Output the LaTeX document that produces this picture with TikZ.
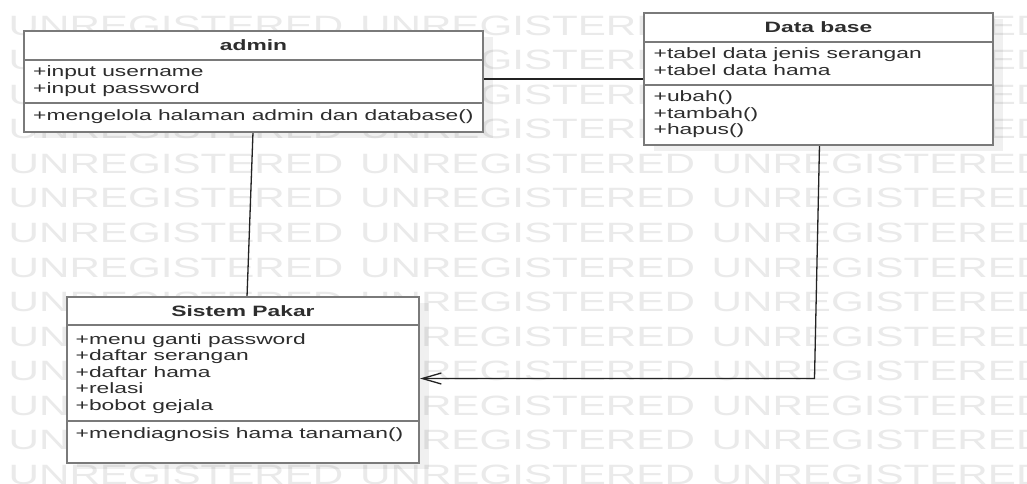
\documentclass[tikz,border=0pt]{standalone}
\usepackage{fontspec}
\setmainfont{Liberation Sans}[FakeStretch=1.52]
\newfontfamily\wmfont{Liberation Sans}[FakeStretch=1.51]
\usetikzlibrary{arrows.meta}
\definecolor{wmgray}{RGB}{234,234,234}
\definecolor{boxgray}{RGB}{122,122,122}
\definecolor{txtgray}{RGB}{45,45,45}
\definecolor{linegray}{RGB}{35,35,35}
\begin{document}
\begin{tikzpicture}[x=1pt,y=-1pt,
  wm/.style={anchor=base west, inner sep=0pt, text=wmgray, font=\wmfont\fontsize{27.9}{30}\selectfont},
  umlbox/.style={draw=boxgray, line width=2pt, fill=white, inner sep=0pt, outer sep=0pt},
  shadowbox/.style={fill=black, opacity=0.06},
  divider/.style={draw=boxgray, line width=2pt},
  member/.style={anchor=base west, inner sep=0pt, text=txtgray, font=\fontsize{15}{17}\selectfont},
  clstitle/.style={anchor=base, inner sep=0pt, text=txtgray, font=\bfseries\fontsize{15}{17}\selectfont},
  conn/.style={draw=linegray, line width=1.3pt},
]
\useasboundingbox (0,0) rectangle (1027,483);
\clip (0,0) rectangle (1027,483);
\fill[white] (0,0) rectangle (1027,483);

% watermark
\foreach \k in {0,...,13} {
  \foreach \j/\xx in {0/8.5,1/360,2/711.5} {
    \node[wm] (wm-\k-\j) at (\xx,{35+34.58*\k}) {UNREGISTERED};
  }
}

% shadows
\fill[shadowbox] (34,37) rectangle (493,138);
\fill[shadowbox] (654,19) rectangle (1003,150.5);
\fill[shadowbox] (77,303) rectangle (429,469);

% boxes
\node[umlbox, minimum width=459pt, minimum height=101pt] (admin) at (253.5,81.5) {};
\node[umlbox, minimum width=349pt, minimum height=131.5pt] (db) at (818.5,78.75) {};
\node[umlbox, minimum width=352pt, minimum height=166pt] (sp) at (243,380) {};

% connectors
\coordinate (adm-db) at (560,79);
\draw[conn] (admin.east |- adm-db) -- (db.west |- adm-db);
\draw[conn] ([xshift=-0.5pt]admin.south) -- ([xshift=4pt]sp.north);
\coordinate (bend) at (814.5,378.5);
\draw[conn, -{Straight Barb[length=19pt,width=11pt,line width=1.3pt]}] ([xshift=1pt]db.south) -- (bend) -- ([xshift=1pt]sp.east |- bend);

% redraw box borders over connector ends
\draw[boxgray, line width=2pt] (admin.north west) rectangle (admin.south east);
\draw[boxgray, line width=2pt] (db.north west) rectangle (db.south east);
\draw[boxgray, line width=2pt] (sp.north west) rectangle (sp.south east);

% dividers
\draw[divider] (admin.west |- 0,60) -- (admin.east |- 0,60);
\draw[divider] (admin.west |- 0,103) -- (admin.east |- 0,103);
\draw[divider] (db.west |- 0,42) -- (db.east |- 0,42);
\draw[divider] (db.west |- 0,85) -- (db.east |- 0,85);
\draw[divider] (sp.west |- 0,325) -- (sp.east |- 0,325);
\draw[divider] (sp.west |- 0,421) -- (sp.east |- 0,421);

% admin texts
\node[clstitle] (admin-t) at (253.5,50) {admin};
\node[member] (admin-a1) at (33,76.5) {+input username};
\node[member] (admin-a2) at (33,93) {+input password};
\node[member] (admin-m1) at (33,120.5) {+mengelola halaman admin dan database()};

% database texts
\node[clstitle] (db-t) at (818.5,32.5) {Data base};
\node[member] (db-a1) at (653.5,58.5) {+tabel data jenis serangan};
\node[member] (db-a2) at (653.5,75) {+tabel data hama};
\node[member] (db-m1) at (653.5,101.5) {+ubah()};
\node[member] (db-m2) at (653.5,118) {+tambah()};
\node[member] (db-m3) at (653.5,134.5) {+hapus()};

% sistem pakar texts
\node[clstitle] (sp-t) at (243,316.5) {Sistem Pakar};
\node[member] (sp-a1) at (75.5,344) {+menu ganti password};
\node[member] (sp-a2) at (75.5,360.6) {+daftar serangan};
\node[member] (sp-a3) at (75.5,377.2) {+daftar hama};
\node[member] (sp-a4) at (75.5,393.8) {+relasi};
\node[member] (sp-a5) at (75.5,410.4) {+bobot gejala};
\node[member] (sp-m1) at (75.5,438) {+mendiagnosis hama tanaman()};
\end{tikzpicture}
\end{document}
